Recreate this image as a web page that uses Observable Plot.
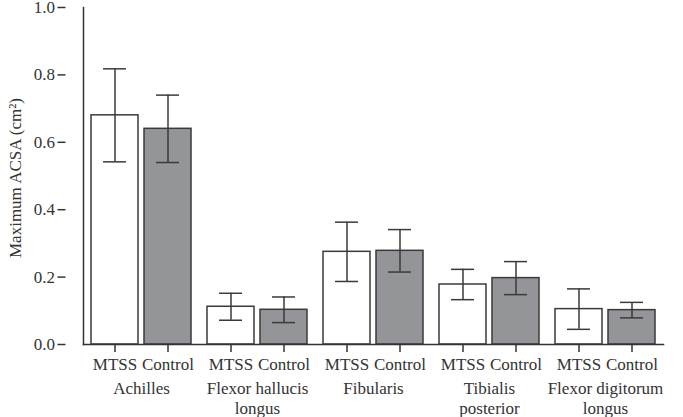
<!DOCTYPE html>
<html>
<head>
<meta charset="utf-8">
<script src="https://cdn.jsdelivr.net/npm/d3@7"></script>
<script src="https://cdn.jsdelivr.net/npm/@observablehq/plot@0.6"></script>
<style>
  body { margin: 0; background: #fff; }
</style>
</head>
<body>
<div id="chart"></div>
<script>
const groups = ["Achilles", "Flexor hallucis\nlongus", "Fibularis", "Tibialis\nposterior", "Flexor digitorum\nlongus"];
const seriesNames = ["MTSS", "Control"];
const mtssMean = [0.680, 0.112, 0.275, 0.178, 0.105];
const mtssSD = [0.138, 0.040, 0.088, 0.045, 0.060];
const controlMean = [0.640, 0.103, 0.278, 0.197, 0.102];
const controlSD = [0.100, 0.038, 0.063, 0.049, 0.023];
const yTicks = [0, 0.2, 0.4, 0.6, 0.8, 1.0];

const data = [];
groups.forEach((g, i) => {
  data.push({group: g, series: "MTSS", mean: mtssMean[i], sd: mtssSD[i]});
  data.push({group: g, series: "Control", mean: controlMean[i], sd: controlSD[i]});
});

const ink = "#333";
const font = "'Liberation Serif', 'DejaVu Serif', serif";
const fs = 17;
const fxPadOuter = 0.15;
const chartW = 683, mL = 63, mR = 0;
const fxStep = (chartW - mL - mR) / (groups.length + 2 * fxPadOuter);
const axisShift = -fxPadOuter * fxStep;

const chart = Plot.plot({
  width: chartW,
  height: 417,
  marginTop: 7,
  marginLeft: mL,
  marginRight: mR,
  marginBottom: 73,
  style: {fontFamily: font, fontSize: fs + "px", color: ink, background: "#fff"},
  fx: {domain: groups, paddingInner: 0, paddingOuter: fxPadOuter, label: null},
  x: {domain: seriesNames, paddingInner: 0.111, paddingOuter: 0.139, label: null},
  y: {domain: [0, 1], label: null},
  color: {domain: seriesNames, range: ["#ffffff", "#939598"]},
  marks: [
    Plot.barY(data, {fx: "group", x: "series", y: "mean", fill: "series", stroke: "#3a3a3a", strokeWidth: 1.5}),
    Plot.ruleX(data, {fx: "group", x: "series", y1: d => d.mean - d.sd, y2: d => d.mean + d.sd, stroke: "#3a3a3a", strokeWidth: 1.5}),
    Plot.tickY(data, {fx: "group", x: "series", y: d => d.mean + d.sd, stroke: "#3a3a3a", strokeWidth: 1.5, insetLeft: 12, insetRight: 12}),
    Plot.tickY(data, {fx: "group", x: "series", y: d => d.mean - d.sd, stroke: "#3a3a3a", strokeWidth: 1.5, insetLeft: 12, insetRight: 12}),
    Plot.frame({facet: "super", anchor: "bottom", stroke: ink, strokeWidth: 1.5}),
    Plot.frame({facet: "super", anchor: "left", stroke: ink, strokeWidth: 1.5}),
    Plot.axisY({ticks: yTicks, tickFormat: d3.format(".1f"), tickSize: 8, tickPadding: 3, strokeWidth: 1.5, dx: axisShift, label: null, fontFamily: font, fontSize: fs, fill: ink}),
    Plot.axisX({tickSize: 8, tickPadding: 5.5, strokeWidth: 1.5, label: null, fontFamily: font, fontSize: fs, fill: ink}),
    Plot.axisFx({anchor: "bottom", tickSize: 0, tickPadding: 36, lineHeight: 1.15, label: null, fontFamily: font, fontSize: fs, fill: ink})
  ]
});

const svg = d3.select(chart);
// y-axis title
svg.append("text")
  .attr("transform", "translate(17,178) rotate(-90)")
  .attr("text-anchor", "middle")
  .attr("dominant-baseline", "middle")
  .attr("fill", ink)
  .style("font-family", font)
  .style("font-size", fs + "px")
  .text("Maximum ACSA (cm²)");

document.getElementById("chart").appendChild(chart);
</script>
</body>
</html>
